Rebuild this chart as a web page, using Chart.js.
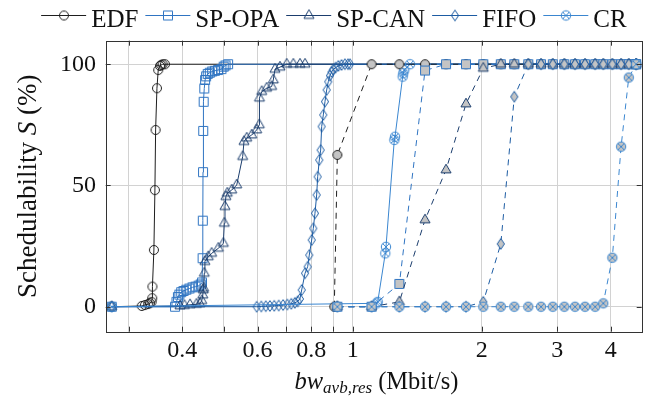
<!DOCTYPE html>
<html><head><meta charset="utf-8">
<script src="https://cdn.jsdelivr.net/npm/chart.js@4.4.1/dist/chart.umd.min.js"></script>
<style>html,body{margin:0;padding:0;background:#fff}#wrap{width:660px;height:401px;position:relative}
#probe{position:absolute;left:-9999px;top:0;font-family:"Liberation Serif";font-size:24px}
#probe i{font-style:italic}</style>
</head><body><div id="wrap"><canvas id="c" width="660" height="401"></canvas></div>
<div id="probe">Schedulability <i>S</i> 0.4</div>
<script>
// ---------- data ----------
const seriesNames = ['EDF', 'SP-OPA', 'SP-CAN', 'FIFO', 'CR'];
const xTickValues = [0.3, 0.4, 0.5, 0.6, 0.7, 0.8, 0.9, 1, 2, 3, 4];
const xTickLabels = ['', '0.4', '', '0.6', '', '0.8', '', '1', '2', '3', '4'];
const yTickValues = [0, 50, 100];
const yTickLabels = ['0', '50', '100'];

// solid series (bandwidth in Mbit/s, schedulability in %)
const bwEdf = [0.274, 0.322, 0.3275, 0.3334, 0.3364, 0.3395, 0.3406, 0.3410, 0.3437, 0.3456, 0.3469, 0.3494, 0.3518, 0.3551, 0.3575, 0.3603, 0.3648, 4.586];
const sEdf  = [0, 0.3, 0.7, 1.1, 1.5, 2, 3.5, 8.3, 23.4, 48.1, 72.9, 90.1, 97.6, 99.3, 99.7, 100, 100, 100];

const bwOpa = [0.274, 0.385, 0.388, 0.391, 0.394, 0.398, 0.403, 0.409, 0.416, 0.423, 0.430, 0.437, 0.442, 0.445, 0.4465, 0.4470, 0.4475, 0.4480, 0.4490, 0.4505, 0.4525, 0.455, 0.459, 0.464, 0.470, 0.477, 0.485, 0.494, 0.500, 0.505, 0.512, 4.586];
const sOpa  = [0, 0, 2, 4, 5, 6, 6.5, 7, 7.5, 8, 8.3, 8.7, 9.2, 10, 20, 35.5, 55.5, 72.5, 84.5, 90, 93.5, 95, 96, 96.5, 97, 97.3, 97.6, 98, 99, 99.5, 100, 100];

const bwCan = [0.274, 0.3955, 0.405, 0.4173, 0.432, 0.440, 0.4445, 0.447, 0.448, 0.449, 0.4505, 0.4521, 0.4603, 0.4688, 0.4859, 0.4991, 0.5018, 0.5036, 0.5060, 0.5099, 0.5221, 0.5364, 0.5538, 0.5577, 0.5659, 0.5813, 0.5970, 0.6055, 0.6060, 0.6134, 0.6300, 0.6471, 0.6527, 0.6587, 0.6766, 0.7015, 0.7270, 0.7535, 0.7742, 4.586];
const sCan  = [0, 0.3, 0.5, 0.8, 1.0, 1.2, 2.5, 4.8, 6.9, 7.6, 13.8, 18.6, 20.6, 22, 24.1, 26.1, 34.4, 41.3, 45.4, 46.8, 48.1, 50.2, 61.9, 68.1, 69.5, 70.8, 72.9, 75, 86, 88.7, 90.1, 90.8, 93.5, 97.9, 98.8, 100, 100, 100, 100, 100];

const bwFifo = [0.274, 0.597, 0.612, 0.627, 0.641, 0.656, 0.672, 0.688, 0.704, 0.719, 0.733, 0.744, 0.753, 0.7604, 0.7742, 0.7852, 0.7920, 0.8024, 0.8093, 0.8166, 0.8241, 0.8286, 0.8358, 0.8420, 0.8466, 0.8540, 0.8618, 0.8696, 0.8771, 0.8851, 0.893, 0.901, 0.912, 0.926, 0.942, 0.959, 0.975, 0.986, 4.586];
const sFifo  = [0, 0, 0.1, 0.2, 0.3, 0.4, 0.5, 0.7, 0.9, 1.2, 1.6, 2.2, 3.2, 6.9, 13.8, 16.5, 21.3, 27.5, 32.3, 38.5, 46.1, 53.6, 60.5, 64.6, 74.3, 79.1, 84.6, 89.4, 92.8, 95.3, 96.8, 97.8, 98.6, 99.3, 99.7, 100, 100, 100, 100];

const bwCr = [0.274, 1.138, 1.144, 1.1915, 1.196, 1.2507, 1.2553, 1.3082, 1.3124, 1.3194, 1.3608, 4.586];
const sCr  = [0, 1.4, 2, 22, 24.7, 68.8, 70.1, 94.9, 96.3, 97.6, 100, 100];

// dashed series (second scenario, grey-filled marks)
const bwDashed = [0.921, 1.107, 1.285, 1.475, 1.651, 1.838, 2.017, 2.216, 2.383, 2.569, 2.751, 2.930, 3.118, 3.302, 3.484, 3.679, 3.843, 4.035, 4.229, 4.407, 4.586];
const bwEdfDashed = [0.906, 0.921, 1.107, 1.285, 1.475, 1.651, 1.838, 2.017, 2.216, 2.383, 2.569, 2.751, 2.930, 3.118, 3.302, 3.484, 3.679, 3.843, 4.035, 4.229, 4.407, 4.586];
const sEdfDashed  = [0, 62.6, 100, 100, 100, 100, 100, 100, 100, 100, 100, 100, 100, 100, 100, 100, 100, 100, 100, 100, 100, 100];
const sOpaDashed  = [0, 0, 9.4, 97.4, 100, 100, 100, 100, 100, 100, 100, 100, 100, 100, 100, 100, 100, 100, 100, 100, 100];
const sCanDashed  = [0, 0, 2, 35.8, 56.4, 83.6, 98.3, 100, 100, 100, 100, 100, 100, 100, 100, 100, 100, 100, 100, 100, 100];
const sFifoDashed = [0, 0, 0, 0, 0, 0, 2, 25.9, 86.6, 100, 100, 100, 100, 100, 100, 100, 100, 100, 100, 100, 100];
const sCrDashed   = [0, 0, 0, 0, 0, 0, 0, 0, 0, 0, 0, 0, 0, 0, 0, 0, 1.4, 20.2, 66, 94.5, 100];

// ---------- styles ----------
const colors = ['#1e1e1e', '#2f74c2', '#1b3d6d', '#1d5ca3', '#3a86d0'];
const shapes = ['circle', 'square', 'triangle', 'diamond', 'otimes'];
const greyFill = '#c4c4c4';
const FONT = '"Liberation Serif", "Times New Roman", Times, serif';

function makeMarker(shape, stroke, fill) {
  const c = document.createElement('canvas');
  c.width = 16; c.height = 16;
  const g = c.getContext('2d');
  g.lineWidth = 1; g.strokeStyle = stroke; g.fillStyle = fill || 'rgba(0,0,0,0)';
  const m = 8;
  g.beginPath();
  if (shape === 'circle') { g.arc(m, m, 4.5, 0, Math.PI * 2); }
  else if (shape === 'square') { g.rect(m - 4.5, m - 4.5, 9, 9); }
  else if (shape === 'triangle') { const R = 5.8; g.moveTo(m, m - R); g.lineTo(m + R * 0.866, m + R * 0.5); g.lineTo(m - R * 0.866, m + R * 0.5); g.closePath(); }
  else if (shape === 'diamond') { g.moveTo(m, m - 5.4); g.lineTo(m + 3.6, m); g.lineTo(m, m + 5.4); g.lineTo(m - 3.6, m); g.closePath(); }
  else if (shape === 'otimes') { g.arc(m, m, 4.7, 0, Math.PI * 2); }
  if (fill) g.fill();
  g.stroke();
  if (shape === 'otimes') {
    const d = 4.7 * Math.SQRT1_2;
    g.beginPath();
    g.moveTo(m - d, m - d); g.lineTo(m + d, m + d);
    g.moveTo(m + d, m - d); g.lineTo(m - d, m + d);
    g.stroke();
  }
  return c;
}

const solidMarks = shapes.map((s, i) => makeMarker(s, colors[i], null));
const dashedMarks = shapes.map((s, i) => makeMarker(s, colors[i], greyFill));

function pts(xs, ys) { return xs.map((x, i) => ({ x: x, y: ys[i] })); }

const solidData = [pts(bwEdf, sEdf), pts(bwOpa, sOpa), pts(bwCan, sCan), pts(bwFifo, sFifo), pts(bwCr, sCr)];
const dashedData = [pts(bwEdfDashed, sEdfDashed), pts(bwDashed, sOpaDashed), pts(bwDashed, sCanDashed), pts(bwDashed, sFifoDashed), pts(bwDashed, sCrDashed)];

const datasets = [];
solidData.forEach((d, i) => datasets.push({
  label: seriesNames[i], data: d, borderColor: colors[i], backgroundColor: colors[i],
  borderWidth: 1, pointStyle: solidMarks[i], pointRadius: 4, pointHoverRadius: 4,
  tension: 0, fill: false, order: 20 - i
}));
dashedData.forEach((d, i) => datasets.push({
  label: seriesNames[i] + ' (2)', data: d, borderColor: colors[i], backgroundColor: colors[i],
  borderWidth: 1, borderDash: [6, 5], pointStyle: dashedMarks[i], pointRadius: 4, pointHoverRadius: 4,
  tension: 0, fill: false, order: 10 - i
}));

// ---------- decorations: frame, inward ticks, legend, axis titles ----------
const decor = {
  id: 'decor',
  afterDatasetsDraw(chart) {
    const { ctx, chartArea: a, scales: { x, y } } = chart;
    ctx.save();
    ctx.strokeStyle = '#333'; ctx.lineWidth = 1;
    ctx.beginPath();
    xTickValues.forEach(v => {
      const px = Math.round(x.getPixelForValue(v)) + 0.5;
      ctx.moveTo(px, a.bottom); ctx.lineTo(px, a.bottom - 5);
      ctx.moveTo(px, a.top); ctx.lineTo(px, a.top + 5);
    });
    yTickValues.forEach(v => {
      const py = Math.round(y.getPixelForValue(v)) + 0.5;
      ctx.moveTo(a.left, py); ctx.lineTo(a.left + 5, py);
      ctx.moveTo(a.right, py); ctx.lineTo(a.right - 5, py);
    });
    ctx.stroke();
    ctx.strokeRect(Math.round(a.left) + 0.5, Math.round(a.top) + 0.5, Math.round(a.right - a.left), Math.round(a.bottom - a.top));
    ctx.restore();
  },
  afterDraw(chart) {
    const { ctx, chartArea: a } = chart;
    ctx.save();
    // legend
    ctx.font = '25px ' + FONT;
    ctx.textBaseline = 'alphabetic';
    ctx.fillStyle = '#111';
    const lineLen = 45, gapText = 5, gapItem = 7, ly = 15;
    const widths = seriesNames.map(n => ctx.measureText(n).width);
    const total = widths.reduce((s, w) => s + w + lineLen + gapText, 0) + gapItem * (seriesNames.length - 1);
    let lx = 333.9 - total / 2;
    seriesNames.forEach((n, i) => {
      ctx.strokeStyle = colors[i]; ctx.lineWidth = 1;
      ctx.beginPath(); ctx.moveTo(lx, ly + 0.5); ctx.lineTo(lx + lineLen, ly + 0.5); ctx.stroke();
      ctx.drawImage(solidMarks[i], Math.round(lx + lineLen / 2) - 8, ly - 7.5);
      ctx.fillStyle = '#111';
      ctx.fillText(n, lx + lineLen + gapText, 26.5);
      lx += lineLen + gapText + widths[i] + gapItem;
    });
    // x title: bw_{avb,res} (Mbit/s)
    const parts = [
      { t: 'bw', f: 'italic 24.5px ' + FONT, dy: 0 },
      { t: 'avb,res', f: 'italic 17px ' + FONT, dy: 4 },
      { t: ' (Mbit/s)', f: '24.5px ' + FONT, dy: 0 }
    ];
    let tw = 0;
    parts.forEach(p => { ctx.font = p.f; p.w = ctx.measureText(p.t).width; tw += p.w; });
    let tx = 376.5 - tw / 2;
    const base = 389;
    parts.forEach(p => { ctx.font = p.f; ctx.fillText(p.t, tx, base + p.dy); tx += p.w; });
    // y title: Schedulability S (%)
    const yparts = [
      { t: 'Schedulability ', f: '27px ' + FONT },
      { t: 'S', f: 'italic 27px ' + FONT },
      { t: ' (%)', f: '27px ' + FONT }
    ];
    let yw = 0;
    yparts.forEach(p => { ctx.font = p.f; p.w = ctx.measureText(p.t).width; yw += p.w; });
    ctx.translate(35.5, (a.top + a.bottom) / 2);
    ctx.rotate(-Math.PI / 2);
    let yx = -yw / 2;
    yparts.forEach(p => { ctx.font = p.f; ctx.fillText(p.t, yx, 0); yx += p.w; });
    ctx.restore();
  }
};

function build() {
  new Chart(document.getElementById('c'), {
    type: 'line',
    data: { datasets: datasets },
    options: {
      responsive: false,
      animation: false,
      events: [],
      layout: { padding: { top: 40.7, right: 18.3, bottom: 0, left: 0 } },
      plugins: { legend: { display: false }, tooltip: { enabled: false } },
      scales: {
        x: {
          type: 'logarithmic', min: 0.2653, max: 4.7245,
          afterBuildTicks: s => { s.ticks = xTickValues.map(v => ({ value: v })); },
          afterFit: s => { s.height = 69.3; },
          ticks: {
            autoSkip: false, maxRotation: 0, minRotation: 0, padding: 4.5,
            color: '#111', font: { family: FONT, size: 24 },
            callback: (v, i) => xTickLabels[i]
          },
          grid: { color: '#d2d2d2', lineWidth: 1, drawTicks: false },
          border: { display: false }
        },
        y: {
          type: 'linear', min: -10.3, max: 109.7,
          afterBuildTicks: s => { s.ticks = yTickValues.map(v => ({ value: v })); },
          afterFit: s => { s.width = 105.7; },
          ticks: {
            padding: 9.7, color: '#111', font: { family: FONT, size: 24 },
            callback: (v, i) => yTickLabels[i]
          },
          grid: { color: '#d2d2d2', lineWidth: 1, drawTicks: false },
          border: { display: false }
        }
      }
    },
    plugins: [decor]
  });
}

Promise.all([
  document.fonts.load('24px "Liberation Serif"'),
  document.fonts.load('italic 24px "Liberation Serif"')
]).then(build, build);
</script>
</body></html>
